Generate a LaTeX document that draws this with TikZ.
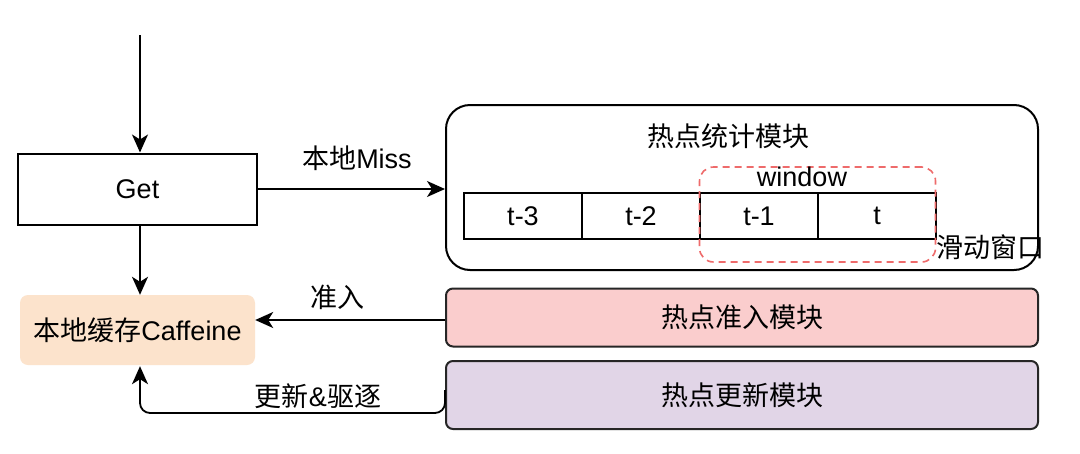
\documentclass[tikz,border=0pt]{standalone}
\usepackage{fontspec}
\setmainfont{Liberation Sans}
\newfontfamily\cjk{Noto Sans CJK SC}
\usetikzlibrary{arrows.meta,calc}
\definecolor{peach}{HTML}{FCE3CC}
\definecolor{pinkfill}{HTML}{FACDCD}
\definecolor{lilac}{HTML}{E1D5E7}
\definecolor{dashred}{HTML}{EE6B6B}
\begin{document}
\begin{tikzpicture}[x=1pt,y=-1pt,
  every node/.style={font=\fontsize{27}{30}\selectfont, inner sep=0pt},
  box/.style={draw=black, line width=2pt},
  rbox/.style={draw=black!85, line width=2pt, rounded corners=7pt},
  cell/.style={draw=black, line width=2pt, minimum width=118pt, minimum height=46pt, anchor=north west},
  conn/.style={line width=1.8pt, -{Stealth[length=18pt,width=16pt,inset=5pt]}},
  lbl/.style={font=\fontsize{27}{30}\selectfont}]
\useasboundingbox[fill=white] (0,0) rectangle (1080,453);
% Get
\node[box, minimum width=239pt, minimum height=71pt] (get) at (137.5,189) {Get};
\coordinate (src) at (140,35);
% Caffeine
\node[fill=peach, rounded corners=8pt, minimum width=235pt, minimum height=70pt] (caf) at (137.5,330) {{\cjk 本地缓存}Caffeine};
% big stat box
\node[draw=black, line width=2pt, rounded corners=24pt, minimum width=592pt, minimum height=165pt] (stat) at (742,187.5) {};
\node (stattitle) at (728,136) {\cjk 热点统计模块};
% cells
\node[cell] (c1) at (463,192) {t-3};
\node[cell] (c2) at (581,192) {t-2};
\node[cell] (c3) at (699,192) {t-1};
\node[cell] (c4) at (817,192) {t};
% window
\node[draw=dashred, dash pattern=on 7pt off 5pt, line width=1.6pt, rounded corners=14pt, minimum width=236pt, minimum height=95pt] (win) at (817.5,214.5) {};
\node (wlbl) at (802,177) {window};
\node (slide) at (990,247) {\cjk 滑动窗口};
% admit / update
\node[rbox, fill=pinkfill, minimum width=592pt, minimum height=58pt] (admit) at (742,317.5) {\cjk 热点准入模块};
\node[rbox, fill=lilac, minimum width=592pt, minimum height=68pt] (upd) at (742,395) {\cjk 热点更新模块};
% connectors
\draw[conn] (src) -- (get.north -| src);
\draw[conn] (get.south -| src) -- (caf.north -| src);
\draw[conn] (get.east) -- (stat.west |- get.east);
\node[lbl] (misslbl) at (357,158) {{\cjk 本地}Miss};
\draw[conn] (admit.west |- 0,320) -- (caf.east |- 0,320);
\node[lbl] (admlbl) at (337,297) {\cjk 准入};
\draw[conn, rounded corners=10pt] (upd.west |- 0,390) -- ++(0,23) -| ($(caf.south -| src)+(0,1)$);
\node[lbl] (updlbl) at (318,396) {{\cjk 更新}\&{\cjk 驱逐}};
\end{tikzpicture}
\end{document}
